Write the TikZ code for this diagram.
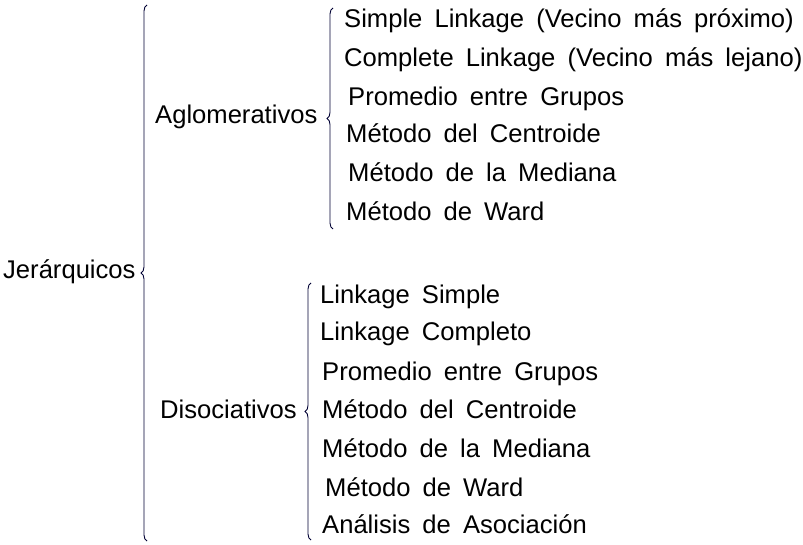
\documentclass[tikz,border=0pt]{standalone}
\usepackage{fontspec}
\setmainfont[WordSpace=1.7]{Liberation Sans}
\usetikzlibrary{decorations.pathreplacing}
\tikzset{
  txt/.style={anchor=base west, inner sep=0pt, font=\fontsize{25.6}{30}\selectfont},
  llave/.style={decorate, decoration={brace, amplitude=6pt}, line width=0.9pt, draw=black!80!blue},
}
\begin{document}
\begin{tikzpicture}[x=1pt, y=-1pt]
\useasboundingbox (0,0) rectangle (803,545);
\node[txt] (jer) at (3,279) {Jerárquicos};
\node[txt] (aglo) at (155,124) {Aglomerativos};
\node[txt] (diso) at (160,418) {Disociativos};

\coordinate (j1) at (147,541); \coordinate (j2) at (147,5);
\coordinate (ab) at (333,229); \coordinate (at) at (333,8);
\coordinate (db) at (311,540); \coordinate (dt) at (311,283);

\draw[llave] (j1) -- (j2);
\draw[llave] (ab) -- (at);
\draw[llave] (db) -- (dt);

\foreach \n/\x/\y/\t in {1/344/28/Simple Linkage (Vecino más próximo),
  2/344/67/Complete Linkage (Vecino más lejano),
  3/348/106/Promedio entre Grupos,
  4/346/143/Método del Centroide,
  5/348/182/Método de la Mediana,
  6/346/221/Método de Ward}
{
  \node[txt] (a\n) at (\x,\y) {\t};
}
\foreach \n/\x/\y/\t in {1/320/303/Linkage Simple,
  2/320/341/Linkage Completo,
  3/322/380/Promedio entre Grupos,
  4/322/418/Método del Centroide,
  5/322/457/Método de la Mediana,
  6/325/496/Método de Ward,
  7/322/533/Análisis de Asociación}
{
  \node[txt] (d\n) at (\x,\y) {\t};
}
\end{tikzpicture}
\end{document}
